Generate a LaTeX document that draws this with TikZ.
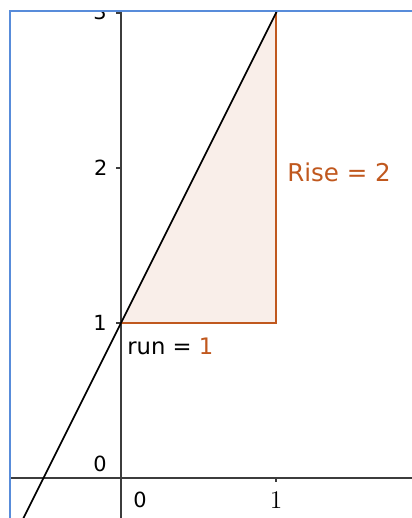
\documentclass[tikz,border=0pt]{standalone}
\usepackage{fontspec}
\setsansfont{DejaVu Sans}
\definecolor{riseorange}{RGB}{192,88,30}
\definecolor{framesblue}{RGB}{88,140,218}
\definecolor{axisgray}{RGB}{60,60,60}
\begin{document}
\begin{tikzpicture}[x=3cm,y=3cm,
  axisline/.style={color=axisgray, line width=1.1pt},
  tickmark/.style={color=axisgray, line width=0.8pt},
  ticklabel/.style={font=\sffamily\fontsize{11.5}{13}\selectfont, inner sep=0pt},
  sidelabel/.style={font=\sffamily\fontsize{12.5}{15}\selectfont, inner sep=0pt, anchor=west},
  orangeside/.style={color=riseorange, line width=0.8pt}]
\useasboundingbox (-0.7806,-0.2581) rectangle (1.8774,3.0839);
\coordinate (A) at (0,1);
\coordinate (B) at (1,1);
\coordinate (C) at (1,3.1);
\coordinate (T) at (1,3);
\coordinate (L) at (-0.75,-0.5);
\coordinate (E) at (1.05,3.1);
\begin{scope}
\clip (-0.7161,-0.2581) rectangle (1.8774,3.0129);
\fill [riseorange!10] (A) -- (B) -- (T) -- cycle;
\draw [axisline] (-0.8,0) -- (1.9,0);
\draw [axisline] (0,-0.3) -- (0,3.1);
\foreach \k in {1,2,3}
  \draw [tickmark] (-0.032,\k) -- (0,\k);
\draw [tickmark] (1,0) -- (1,-0.026);
\draw [orangeside] (A) -- (B) -- (C);
\draw [line width=0.9pt] (L) -- (E);
\node [ticklabel, anchor=east] (y3) at (-0.09,3.01) {3};
\end{scope}
\node [ticklabel, anchor=east] (y2) at (-0.085,2) {2};
\node [ticklabel, anchor=east] (y1) at (-0.09,1) {1};
\node [ticklabel, anchor=south east] (y0) at (-0.09,0.035) {0};
\node [ticklabel] (x0) at (0.123,-0.142) {0};
\node [font=\fontsize{14}{16}\selectfont, inner sep=0pt] (x1) at (1,-0.142) {1};
\node [sidelabel, text=riseorange, font=\sffamily\fontsize{13.5}{16}\selectfont] (rise) at (1.071,1.974) {Rise = 2};
\node [sidelabel] (run) at (0.039,0.852) {run = \textcolor{riseorange}{1}};
\draw [framesblue, line width=1pt] (-0.7161,-0.2581) -- (-0.7161,3.0129) -- (1.8774,3.0129);
\end{tikzpicture}
\end{document}
